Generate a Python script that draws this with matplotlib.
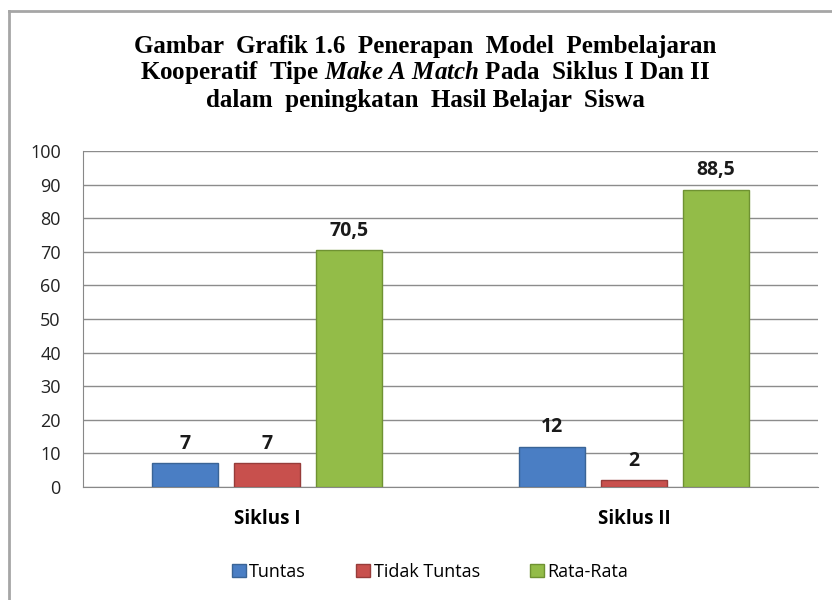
import matplotlib
matplotlib.use("Agg")
import matplotlib.pyplot as plt
import numpy as np

# data
categories = ["Siklus I", "Siklus II"]
series = ["Tuntas", "Tidak Tuntas", "Rata-Rata"]
tuntas = [7, 12]
tidak_tuntas = [7, 2]
rata_rata = [70.5, 88.5]
value_labels = [["7", "12"], ["7", "2"], ["70,5", "88,5"]]
colors = ["#4A7EC4", "#C8504D", "#93BC48"]
edges = ["#3A6496", "#973C3A", "#6F9232"]

plt.rcParams['mathtext.fontset'] = 'custom'
plt.rcParams['mathtext.rm'] = 'Liberation Serif:bold'
plt.rcParams['mathtext.it'] = 'Liberation Serif:italic:bold'

fig = plt.figure(figsize=(8.32, 6.0), dpi=100)
ax = fig.add_axes([83 / 832, 1 - 487 / 600, 735 / 832, 336 / 600])

x = np.arange(len(categories))
w = 0.18
step = 0.223
for i, vals in enumerate([tuntas, tidak_tuntas, rata_rata]):
    bars = ax.bar(x + (i - 1) * step, vals, w, color=colors[i], edgecolor=edges[i],
                  linewidth=1, label=series[i], zorder=3)
    for b, lab in zip(bars, value_labels[i]):
        ax.text(b.get_x() + b.get_width() / 2, b.get_height() + 2.8, lab,
                ha="center", va="bottom", fontsize=14, fontweight="bold",
                family="Open Sans", color="#1a1a1a")

ax.set_xlim(-0.5, 1.5)
ax.set_ylim(0, 100)
ax.set_yticks(range(0, 101, 10))
ax.set_xticks(x)
ax.set_xticklabels(categories, fontsize=13.5, fontweight="bold", family="Open Sans")
ax.tick_params(axis="x", length=0, pad=16)
ax.tick_params(axis="y", length=0, labelsize=13, pad=16, labelcolor="#222222")
for lab in ax.get_yticklabels():
    lab.set_family("Open Sans")
ax.grid(axis="y", color="#8c8c8c", linewidth=1, zorder=0)
ax.set_axisbelow(True)
for s in ["top", "right"]:
    ax.spines[s].set_visible(False)
ax.spines["left"].set_color("#888888")
ax.spines["bottom"].set_color("#888888")

tfont = dict(ha="center", va="center", fontsize=18, fontweight="bold", family="Liberation Serif")
fig.text(0.511, 1 - 46 / 600, "Gambar  Grafik 1.6  Penerapan  Model  Pembelajaran", **tfont)
fig.text(0.511, 1 - 73 / 600,
         r"Kooperatif  Tipe $\mathit{Make\ A\ Match}$ Pada  Siklus I Dan II", **tfont)
fig.text(0.511, 1 - 101 / 600, "dalam  peningkatan  Hasil Belajar  Siswa", **tfont)

fig.legend(loc="center", bbox_to_anchor=(0.517, 1 - 572 / 600), ncol=3, frameon=False,
           handlelength=0.75, handleheight=0.75, handletextpad=0.2, columnspacing=2.8,
           prop={"family": "Open Sans", "size": 13})

# chart border
fig.add_artist(plt.Line2D([9 / 832, 9 / 832], [0, 1 - 11 / 600], color="#a6a6a6",
                          linewidth=2, transform=fig.transFigure))
fig.add_artist(plt.Line2D([9 / 832, 1], [1 - 11 / 600, 1 - 11 / 600], color="#a6a6a6",
                          linewidth=2, transform=fig.transFigure))

fig.savefig("out.png", dpi=100)
